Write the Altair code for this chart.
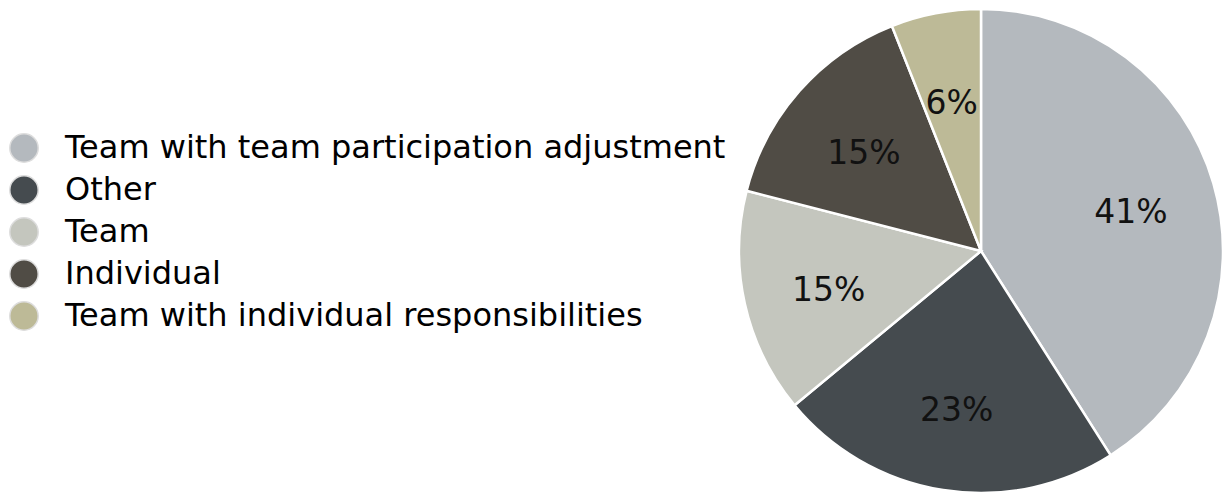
import altair as alt
import pandas as pd

categories = [
    "Team with team participation adjustment",
    "Other",
    "Team",
    "Individual",
    "Team with individual responsibilities",
]
values = [41, 23, 15, 15, 6]
labels = ["41%", "23%", "15%", "15%", "6%"]
colors = ["#b4b9be", "#454b4f", "#c4c6be", "#504c45", "#bdba97"]

df = pd.DataFrame({
    "category": categories,
    "value": values,
    "label": labels,
    "order": list(range(len(categories))),
})

base = alt.Chart(df).encode(
    theta=alt.Theta("value:Q", stack=True),
    order=alt.Order("order:Q", sort="ascending"),
)

pie = base.mark_arc(outerRadius=242, stroke="white", strokeWidth=2.5).encode(
    color=alt.Color(
        "category:N",
        scale=alt.Scale(domain=categories, range=colors),
        sort=categories,
        legend=alt.Legend(
            title=None,
            orient="none",
            legendX=-729,
            legendY=130,
            symbolType="circle",
            symbolSize=810,
            symbolStrokeColor="#dddddd",
            symbolStrokeWidth=1.5,
            labelFontSize=32,
            labelFont="DejaVu Sans",
            labelColor="#000000",
            labelOffset=25,
            rowPadding=6,
            labelLimit=800,
        ),
    )
)

text = base.mark_text(
    radius=156, fontSize=33, font="DejaVu Sans", color="#111111", dy=6
).encode(text="label:N")

chart = (
    alt.layer(pie, text)
    .properties(
        width=488,
        height=498,
        padding={"left": 737, "top": 2, "right": 0, "bottom": 0},
        autosize=alt.AutoSizeParams(type="none"),
    )
    .configure_view(stroke=None)
    .configure(background="white")
)

chart.save("out.html", embed_options={"renderer": "svg", "actions": False})
